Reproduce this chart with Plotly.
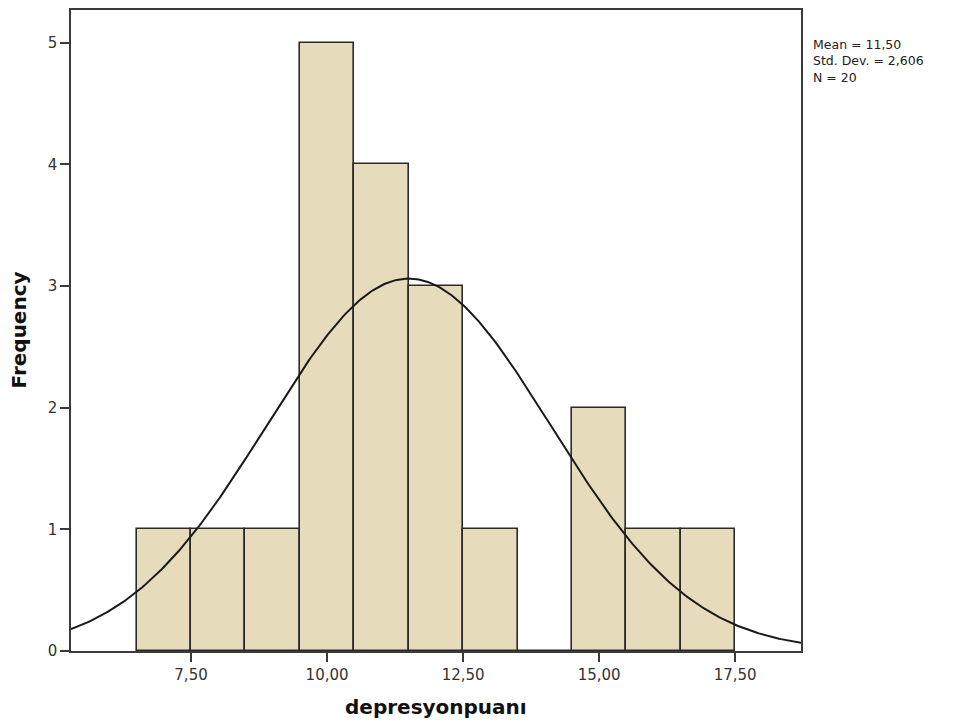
import numpy as np
import plotly.graph_objects as go

# Data
bin_centers = [7, 8, 9, 10, 11, 12, 13, 14, 15, 16, 17]
frequencies = [1, 1, 1, 5, 4, 3, 1, 0, 2, 1, 1]
bin_width = 1.0
mean_val = 11.50
std_val = 2.606
n_val = 20
x_tick_vals = [7.5, 10.0, 12.5, 15.0, 17.5]
x_tick_text = ["7,50", "10,00", "12,50", "15,00", "17,50"]
y_tick_vals = [0, 1, 2, 3, 4, 5]
x_range = [5.294, 18.71]
y_range = [0, 5.27]
stats_lines = ["Mean = 11,50", "Std. Dev. = 2,606", "N = 20"]

# Fitted normal curve (scaled to counts)
xs = np.linspace(x_range[0], x_range[1], 400)
ys = n_val * bin_width / (std_val * np.sqrt(2 * np.pi)) * np.exp(-0.5 * ((xs - mean_val) / std_val) ** 2)

fig = go.Figure()
fig.add_trace(go.Bar(
    x=bin_centers, y=frequencies, width=bin_width,
    marker=dict(color="#E6DCBB", line=dict(color="#2a2a2a", width=1.6)),
    hoverinfo="x+y", showlegend=False,
))
fig.add_trace(go.Scatter(
    x=xs, y=ys, mode="lines",
    line=dict(color="#1a1a1a", width=2),
    showlegend=False, hoverinfo="skip",
))

tick_font = dict(family="DejaVu Sans, sans-serif", size=15, color="#333333")
title_font = dict(family="DejaVu Sans, sans-serif", size=20, color="#111111")
stat_font = dict(family="DejaVu Sans, sans-serif", size=12.5, color="#222222")

annotations = [
    dict(xref="paper", yref="paper", x=0.5, y=0, xanchor="center", yanchor="middle",
         yshift=-56, showarrow=False, text="<b>depresyonpuanı</b>", font=title_font),
    dict(xref="paper", yref="paper", x=0, y=0.5, xanchor="center", yanchor="middle",
         xshift=-53, textangle=-90, showarrow=False, text="<b>Frequency</b>", font=title_font),
    dict(xref="paper", yref="paper", x=1.0, y=1.0, xanchor="left", yanchor="middle",
         xshift=11, yshift=-50.5, showarrow=False, align="left", borderpad=0,
         text="<br>".join(stats_lines), font=stat_font),
]

fig.update_layout(
    width=950, height=718,
    margin=dict(l=63, r=157, t=0, b=75),
    paper_bgcolor="white", plot_bgcolor="white",
    bargap=0,
    font=tick_font,
    xaxis=dict(
        range=x_range, tickvals=x_tick_vals, ticktext=x_tick_text,
        showgrid=False, zeroline=False,
        showline=True, linecolor="#3a3a3a", linewidth=1.6, mirror=True,
        ticks="outside", ticklen=9, tickwidth=1.6, tickcolor="#3a3a3a",
        tickfont=tick_font,
    ),
    yaxis=dict(
        range=y_range, tickvals=y_tick_vals,
        showgrid=False, zeroline=False,
        showline=True, linecolor="#3a3a3a", linewidth=1.6, mirror=True,
        ticks="outside", ticklen=9, tickwidth=1.6, tickcolor="#3a3a3a",
        tickfont=tick_font,
    ),
    annotations=annotations,
)

fig.write_html("out.html")
